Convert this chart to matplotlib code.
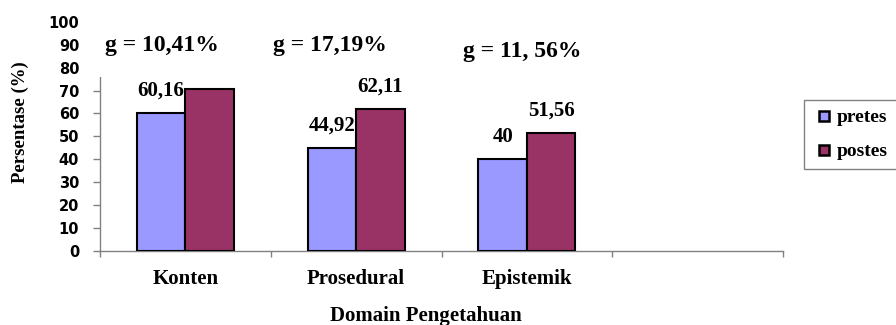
import numpy as np
import matplotlib.pyplot as plt
from matplotlib.patches import Rectangle
from matplotlib.lines import Line2D

# nilai persentase per domain pengetahuan
categories = ['Konten', 'Prosedural', 'Epistemik', '']
pretes = [60.16, 44.92, 40.0]
postes = [70.57, 62.11, 51.56]
pretes_labels = ['60,16', '44,92', '40']
postes_labels = [None, '62,11', '51,56']
g_labels = ['g = 10,41%', 'g = 17,19%', 'g = 11, 56%']
g_pos = [(0.363, 89.6), (1.347, 89.6), (2.471, 87.0)]

c_pre = '#9999FF'
c_post = '#993366'
serif = dict(family='Liberation Serif', weight='bold')

fig = plt.figure(figsize=(8.96, 3.25), dpi=100)
ax = fig.add_axes([0.1116, 0.2286, 0.7623, 0.7037])

w = 0.284
x = np.arange(len(pretes)) + 0.5
ax.bar(x - w / 2, pretes, w, color=c_pre, edgecolor='black', linewidth=1.5, zorder=3)
ax.bar(x + w / 2, postes, w, color=c_post, edgecolor='black', linewidth=1.5, zorder=3)

for xi, v, t in zip(x - w / 2, pretes, pretes_labels):
    ax.annotate(t, (xi, v), xytext=(0, 16), textcoords='offset points',
                ha='center', va='center', fontsize=15, zorder=5, **serif)
for xi, v, t in zip(x + w / 2, postes, postes_labels):
    if t:
        ax.annotate(t, (xi, v), xytext=(0, 16), textcoords='offset points',
                    ha='center', va='center', fontsize=15, zorder=5, **serif)

# kotak teks putih di belakang label gain pertama
ax.add_patch(Rectangle((-0.04, 75.8), 0.95, 30, facecolor='white', edgecolor='none',
                       zorder=4, clip_on=False))
for (gx, gy), t in zip(g_pos, g_labels):
    ax.text(gx, gy, t, ha='center', va='center', fontsize=17, zorder=6, **serif)

ax.set_xlim(0, 4)
ax.set_ylim(0, 100)
ax.set_yticks(np.arange(0, 101, 10))
ax.tick_params(axis='y', length=5, width=1, color='#808080', pad=10, labelsize=10.5)
for lab in ax.get_yticklabels():
    lab.set_fontweight('bold')

ax.set_xticks(np.arange(0, 5))
ax.set_xticklabels([])
ax.set_xticks(np.arange(4) + 0.5, minor=True)
ax.set_xticklabels(categories, minor=True, fontsize=15, **serif)
ax.tick_params(axis='x', which='major', length=4.5, width=1, color='#808080')
ax.tick_params(axis='x', which='minor', length=0, pad=13)

for s in ['top', 'right']:
    ax.spines[s].set_visible(False)
for s in ['left', 'bottom']:
    ax.spines[s].set_color('#808080')
    ax.spines[s].set_linewidth(1)

ax.set_xlabel('Domain Pengetahuan', fontsize=15, va='center', **serif)
ax.xaxis.set_label_coords(0.477, -0.286)
ax.set_ylabel('Persentase (%)', fontsize=13.5, va='center', **serif)
ax.yaxis.set_label_coords(-0.117, 0.563)

handles = [Line2D([], [], ls='none', marker='s', markersize=7, markerfacecolor=c,
                  markeredgecolor='black', markeredgewidth=1.8) for c in (c_pre, c_post)]
leg = fig.legend(handles, ['pretes', 'postes'], loc='upper left',
                 bbox_to_anchor=(804 / 896, 1 - 100 / 325),
                 borderaxespad=0, fancybox=False, edgecolor='#808080', framealpha=1,
                 prop=dict(family='Liberation Serif', weight='bold', size=14),
                 handlelength=1.2, handletextpad=0.05,
                 labelspacing=0.85, borderpad=0.45)
leg.get_frame().set_linewidth(1)

fig.savefig('out.png', dpi=100)
